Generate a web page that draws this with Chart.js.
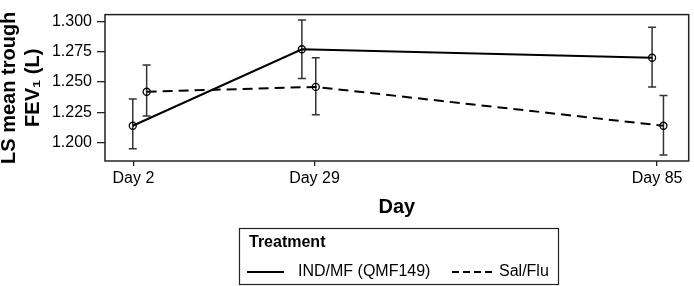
<!DOCTYPE html>
<html>
<head>
<meta charset="utf-8">
<script src="https://cdn.jsdelivr.net/npm/chart.js@4.4.1/dist/chart.umd.min.js"></script>
<style>
  html, body { margin: 0; padding: 0; background: #fff; }
  #wrap { width: 694px; height: 286px; position: relative; }
</style>
</head>
<body>
<div id="wrap"><canvas id="fev_chart"></canvas></div>
<script>
// values
const series_labels = ['IND/MF (QMF149)', 'Sal/Flu'];

const ind_days = [1.9, 28.7, 84.2];
const ind_mean = [1.214, 1.277, 1.270];
const ind_low = [1.195, 1.253, 1.246];
const ind_high = [1.236, 1.301, 1.295];

const sal_days = [4.1, 30.9, 86.0];
const sal_mean = [1.242, 1.246, 1.214];
const sal_low = [1.222, 1.223, 1.190];
const sal_high = [1.264, 1.270, 1.239];

const x_tick_pos = [2, 30.7, 85];
const x_tick_labels = ['Day 2', 'Day 29', 'Day 85'];
const y_ticks = [1.200, 1.225, 1.250, 1.275, 1.300];

const FONT = "'Liberation Sans', Arial, sans-serif";

function pts(xs, ys) {
  return xs.map((x, i) => ({x: x, y: ys[i]}));
}

const data_fev = {
  datasets: [{
    label: series_labels[0],
    data: pts(ind_days, ind_mean),
    lower: ind_low,
    upper: ind_high,
    borderColor: '#000',
    borderWidth: 2,
    pointRadius: 3.5,
    pointBorderWidth: 1.3,
    pointBorderColor: '#000',
    pointBackgroundColor: 'rgba(0,0,0,0)',
    legendDash: []
  }, {
    label: series_labels[1],
    data: pts(sal_days, sal_mean),
    lower: sal_low,
    upper: sal_high,
    borderColor: '#000',
    borderWidth: 2,
    borderDash: [10, 6],
    pointRadius: 3.5,
    pointBorderWidth: 1.3,
    pointBorderColor: '#000',
    pointBackgroundColor: 'rgba(0,0,0,0)',
    legendDash: [7, 4]
  }]
};

// vertical error bars with caps
const errorBars = {
  id: 'errorBars',
  beforeDatasetsDraw(chart) {
    const ctx = chart.ctx;
    const xs = chart.scales.x, ys = chart.scales.y;
    ctx.save();
    ctx.strokeStyle = '#333';
    ctx.lineWidth = 1.5;
    chart.data.datasets.forEach(ds => {
      ds.data.forEach((p, i) => {
        const x = xs.getPixelForValue(p.x);
        const y1 = ys.getPixelForValue(ds.lower[i]);
        const y2 = ys.getPixelForValue(ds.upper[i]);
        ctx.beginPath();
        ctx.moveTo(x, y1); ctx.lineTo(x, y2);
        ctx.moveTo(x - 4, y1); ctx.lineTo(x + 4, y1);
        ctx.moveTo(x - 4, y2); ctx.lineTo(x + 4, y2);
        ctx.stroke();
      });
    });
    ctx.restore();
  }
};

// box round the plot area
const frame = {
  id: 'frame',
  afterDraw(chart) {
    const a = chart.chartArea, ctx = chart.ctx;
    ctx.save();
    ctx.strokeStyle = '#222';
    ctx.lineWidth = 1.5;
    ctx.strokeRect(a.left, a.top, a.right - a.left, a.bottom - a.top);
    ctx.restore();
  }
};

// boxed legend with a title, under the axis
const boxLegend = {
  id: 'boxLegend',
  afterDraw(chart) {
    const ctx = chart.ctx;
    const left = 239.5, top = 228.5, w = 319, h = 56;
    ctx.save();
    ctx.strokeStyle = '#222';
    ctx.lineWidth = 1.2;
    ctx.strokeRect(left, top, w, h);
    ctx.fillStyle = '#000';
    ctx.textBaseline = 'middle';
    ctx.font = 'bold 16px ' + FONT;
    ctx.fillText('Treatment', 249, 243);
    ctx.font = '16px ' + FONT;
    const itemY = 272;
    const samples = [[247, 284, 298], [452, 492, 499]];
    chart.data.datasets.forEach((ds, i) => {
      const s = samples[i];
      ctx.beginPath();
      ctx.setLineDash(ds.legendDash);
      ctx.lineWidth = 2;
      ctx.strokeStyle = '#000';
      ctx.moveTo(s[0], itemY);
      ctx.lineTo(s[1], itemY);
      ctx.stroke();
      ctx.setLineDash([]);
      ctx.fillText(ds.label, s[2], itemY);
    });
    ctx.restore();
  }
};

const config_fev = {
  type: 'line',
  data: data_fev,
  options: {
    responsive: true,
    maintainAspectRatio: false,
    animation: false,
    layout: {padding: {top: 1, right: 2, bottom: 60, left: 0}},
    plugins: {
      legend: {display: false},
      tooltip: {enabled: false}
    },
    scales: {
      x: {
        type: 'linear',
        min: -2.5,
        max: 90,
        afterBuildTicks: axis => { axis.ticks = x_tick_pos.map(v => ({value: v})); },
        afterFit: axis => { axis.height = 65; },
        ticks: {
          color: '#000',
          padding: 3,
          maxRotation: 0,
          font: {family: FONT, size: 16},
          callback: (v, i) => x_tick_labels[i]
        },
        grid: {drawOnChartArea: false, drawTicks: true, tickLength: 5, color: '#222', lineWidth: 1.3},
        border: {display: false},
        title: {
          display: true,
          text: 'Day',
          color: '#000',
          font: {family: FONT, size: 20, weight: 'bold'},
          padding: {top: 0, bottom: 7}
        }
      },
      y: {
        min: 1.185,
        max: 1.3055,
        afterBuildTicks: axis => { axis.ticks = y_ticks.map(v => ({value: v})); },
        afterFit: axis => { axis.width = 105; },
        ticks: {
          color: '#000',
          padding: 5,
          font: {family: FONT, size: 16},
          callback: v => v.toFixed(3)
        },
        grid: {drawOnChartArea: false, drawTicks: true, tickLength: 8, color: '#222', lineWidth: 1.3},
        border: {display: false},
        title: {
          display: true,
          text: ['LS mean trough', 'FEV\u2081 (L)'],
          color: '#000',
          font: {family: FONT, size: 20, weight: 'bold', lineHeight: 1.2},
          padding: {top: -3, bottom: 0}
        }
      }
    }
  },
  plugins: [errorBars, frame, boxLegend]
};

const myChartFev = new Chart(document.getElementById('fev_chart'), config_fev);
</script>
</body>
</html>
